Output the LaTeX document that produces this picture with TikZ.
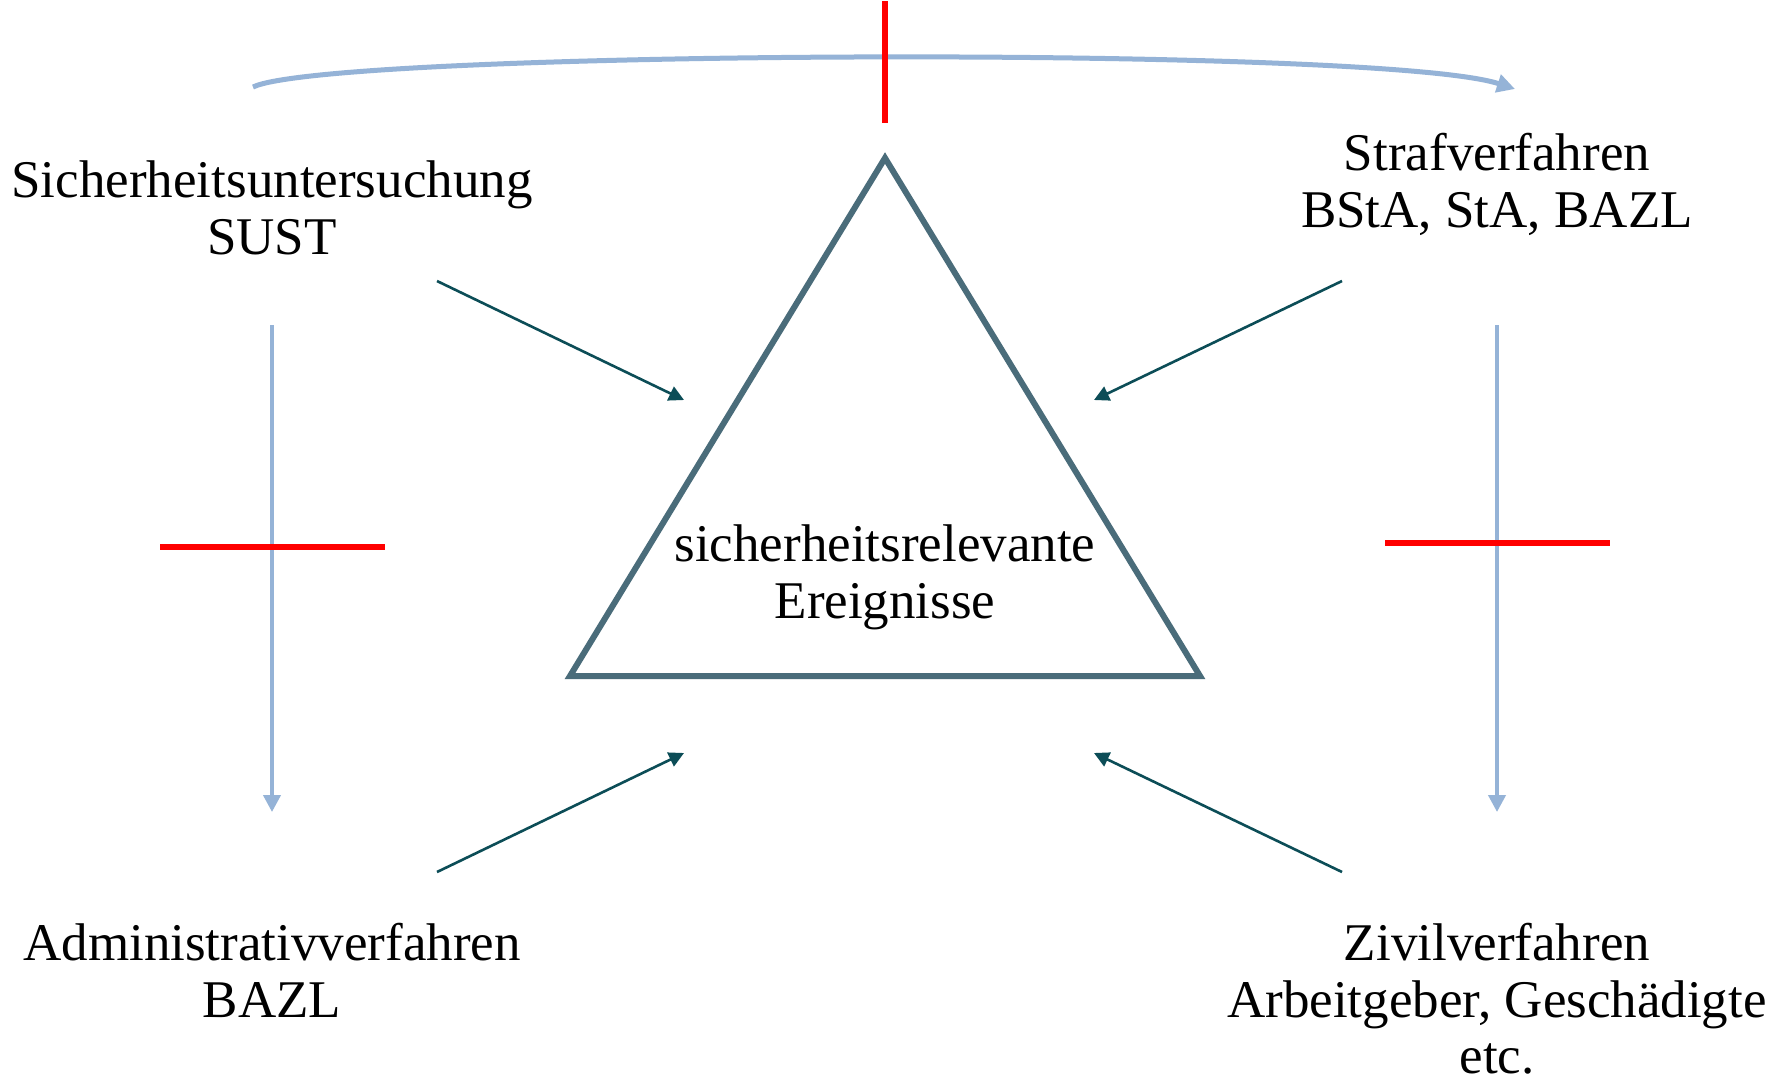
\documentclass[tikz,border=0pt]{standalone}
\usepackage{fontspec}
\setmainfont{Liberation Serif}
\usetikzlibrary{arrows.meta}
\definecolor{lblue}{RGB}{149,179,215}
\definecolor{tri}{RGB}{74,108,122}
\definecolor{teal}{RGB}{12,77,87}
\definecolor{cross}{RGB}{255,0,0}
\tikzset{
  lbl/.style={anchor=base, inner sep=0pt, font=\fontsize{53}{57}\selectfont},
  flow/.style={draw=lblue, line width=4pt, -{Triangle[length=17pt,width=17pt]}},
  topflow/.style={draw=lblue, line width=5pt, -{Triangle[length=18pt,width=18pt]}},
  block/.style={draw=cross, line width=6pt},
  inarrow/.style={draw=teal, line width=2.6pt, -{Triangle[length=15pt,width=15pt]}},
  triline/.style={draw=tri, line width=6pt, line join=miter}
}
\begin{document}
\begin{tikzpicture}[x=1pt,y=-1pt]
\useasboundingbox (0,0) rectangle (1769,1077);
\fill[white] (0,0) rectangle (1769,1077);

% triangle
\coordinate (apex) at (885,158);
\coordinate (bl) at (570,676);
\coordinate (br) at (1200,676);
\draw[triline] (apex) -- (bl) -- (br) -- cycle;

% labels
\node[lbl] (sust1) at (272,197) {Sicherheitsuntersuchung};
\node[lbl] (sust2) at (272,254) {SUST};
\node[lbl] (straf1) at (1497,170) {Strafverfahren};
\node[lbl] (straf2) at (1497,227) {BStA, StA, BAZL};
\node[lbl] (ev1) at (885,561) {sicherheitsrelevante};
\node[lbl] (ev2) at (885,618) {Ereignisse};
\node[lbl] (adm1) at (272,960) {Administrativverfahren};
\node[lbl] (adm2) at (272,1017) {BAZL};
\node[lbl] (ziv1) at (1497,960) {Zivilverfahren};
\node[lbl] (ziv2) at (1497,1017) {Arbeitgeber, Geschädigte};
\node[lbl] (ziv3) at (1497,1073) {etc.};

% top curved arrow
\coordinate (arcS) at (253,87);
\coordinate (arcE) at (1515,89);
\draw[topflow] (arcS) .. controls (330,50) and (1380,45) .. (arcE);

% vertical arrows
\coordinate (lvS) at (272,325);
\coordinate (lvE) at (272,812);
\coordinate (rvS) at (1497,325);
\coordinate (rvE) at (1497,812);
\draw[flow] (lvS) -- (lvE);
\draw[flow] (rvS) -- (rvE);

% red blocking bars
\coordinate (tbS) at (885,1);
\coordinate (tbE) at (885,123);
\coordinate (lbS) at (160,547);
\coordinate (lbE) at (385,547);
\coordinate (rbS) at (1385,543);
\coordinate (rbE) at (1610,543);
\draw[block] (tbS) -- (tbE);
\draw[block] (lbS) -- (lbE);
\draw[block] (rbS) -- (rbE);

% inward arrows
\coordinate (ulS) at (437,281);
\coordinate (ulE) at (684,400);
\coordinate (urS) at (1342,281);
\coordinate (urE) at (1094,400);
\coordinate (llS) at (437,872);
\coordinate (llE) at (684,753);
\coordinate (lrS) at (1342,872);
\coordinate (lrE) at (1094,753);
\draw[inarrow] (ulS) -- (ulE);
\draw[inarrow] (urS) -- (urE);
\draw[inarrow] (llS) -- (llE);
\draw[inarrow] (lrS) -- (lrE);
\end{tikzpicture}
\end{document}
